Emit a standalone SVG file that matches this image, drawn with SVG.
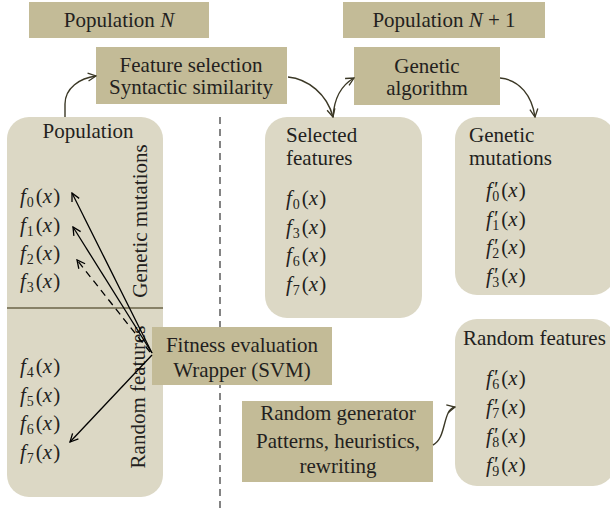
<svg xmlns="http://www.w3.org/2000/svg" width="610" height="514" viewBox="0 0 610 514" font-family="'Liberation Serif', 'DejaVu Serif', serif">
<style>
text{font-family:'Liberation Serif','DejaVu Serif',serif;font-size:21px;fill:#231f20}
.c{text-anchor:middle}
.i{font-style:italic}
.s{font-size:14px}
.p{font-size:21px;font-style:italic}
.dark{fill:#c3bb97}
.light{fill:#dcd8c5}
.conn{fill:none;stroke:#3b3826;stroke-width:1.4}
.fit{fill:none;stroke:#000;stroke-width:1.3}
</style>
<defs>
<marker id="ah" viewBox="0 0 10 10" refX="9" refY="5" markerWidth="10" markerHeight="10" markerUnits="userSpaceOnUse" orient="auto">
<path d="M1,1 L9,5 L1,9" fill="none" stroke="#3b3826" stroke-width="1.3"/>
</marker>
<marker id="ak" viewBox="0 0 10 10" refX="9" refY="5" markerWidth="10" markerHeight="10" markerUnits="userSpaceOnUse" orient="auto">
<path d="M1,1 L9,5 L1,9" fill="none" stroke="#000" stroke-width="1.3"/>
</marker>
</defs>

<line x1="220" y1="117" x2="220" y2="512" stroke="#333" stroke-width="1.2" stroke-dasharray="7,5"/>

<g id="popN">
<rect class="dark" x="29" y="2" width="180" height="36"/>
<text class="c" x="119" y="27">Population <tspan class="i">N</tspan></text>
</g>
<g id="popN1">
<rect class="dark" x="343" y="2" width="202" height="36"/>
<text class="c" x="444" y="27">Population <tspan class="i">N</tspan> + 1</text>
</g>
<g id="featsel">
<rect class="dark" x="96" y="47" width="191" height="57"/>
<text class="c" x="191" y="72">Feature selection</text>
<text class="c" x="191" y="94">Syntactic similarity</text>
</g>
<g id="genalg">
<rect class="dark" x="354" y="47" width="146" height="58"/>
<text class="c" x="427" y="73">Genetic</text>
<text class="c" x="427" y="95">algorithm</text>
</g>

<g id="population">
<rect class="light" x="7" y="117" width="156" height="380" rx="22"/>
<line x1="7" y1="308" x2="163" y2="308" stroke="#6b6447" stroke-width="1.5"/>
<text class="c" x="88" y="138">Population</text>
<text x="20" y="203"><tspan class="i">f</tspan><tspan class="s" dx="1" dy="4">0</tspan><tspan dx="2" dy="-4">(</tspan><tspan class="i">x</tspan><tspan dx="1">)</tspan></text>
<text x="20" y="232"><tspan class="i">f</tspan><tspan class="s" dx="1" dy="4">1</tspan><tspan dx="2" dy="-4">(</tspan><tspan class="i">x</tspan><tspan dx="1">)</tspan></text>
<text x="20" y="260"><tspan class="i">f</tspan><tspan class="s" dx="1" dy="4">2</tspan><tspan dx="2" dy="-4">(</tspan><tspan class="i">x</tspan><tspan dx="1">)</tspan></text>
<text x="20" y="288"><tspan class="i">f</tspan><tspan class="s" dx="1" dy="4">3</tspan><tspan dx="2" dy="-4">(</tspan><tspan class="i">x</tspan><tspan dx="1">)</tspan></text>
<text x="20" y="373"><tspan class="i">f</tspan><tspan class="s" dx="1" dy="4">4</tspan><tspan dx="2" dy="-4">(</tspan><tspan class="i">x</tspan><tspan dx="1">)</tspan></text>
<text x="20" y="402"><tspan class="i">f</tspan><tspan class="s" dx="1" dy="4">5</tspan><tspan dx="2" dy="-4">(</tspan><tspan class="i">x</tspan><tspan dx="1">)</tspan></text>
<text x="20" y="430"><tspan class="i">f</tspan><tspan class="s" dx="1" dy="4">6</tspan><tspan dx="2" dy="-4">(</tspan><tspan class="i">x</tspan><tspan dx="1">)</tspan></text>
<text x="20" y="459"><tspan class="i">f</tspan><tspan class="s" dx="1" dy="4">7</tspan><tspan dx="2" dy="-4">(</tspan><tspan class="i">x</tspan><tspan dx="1">)</tspan></text>
<text class="c" transform="translate(147,221) rotate(-90)">Genetic mutations</text>
<text class="c" transform="translate(145,397) rotate(-90)">Random features</text>
</g>

<g id="selected">
<rect class="light" x="265" y="117" width="157" height="201" rx="22"/>
<text x="286" y="142">Selected</text>
<text x="286" y="165">features</text>
<text x="286" y="205"><tspan class="i">f</tspan><tspan class="s" dx="1" dy="4">0</tspan><tspan dx="2" dy="-4">(</tspan><tspan class="i">x</tspan><tspan dx="1">)</tspan></text>
<text x="286" y="234"><tspan class="i">f</tspan><tspan class="s" dx="1" dy="4">3</tspan><tspan dx="2" dy="-4">(</tspan><tspan class="i">x</tspan><tspan dx="1">)</tspan></text>
<text x="286" y="262"><tspan class="i">f</tspan><tspan class="s" dx="1" dy="4">6</tspan><tspan dx="2" dy="-4">(</tspan><tspan class="i">x</tspan><tspan dx="1">)</tspan></text>
<text x="286" y="291"><tspan class="i">f</tspan><tspan class="s" dx="1" dy="4">7</tspan><tspan dx="2" dy="-4">(</tspan><tspan class="i">x</tspan><tspan dx="1">)</tspan></text>
</g>

<g id="genmut">
<rect class="light" x="455" y="117" width="160" height="178" rx="22"/>
<text x="469" y="142">Genetic</text>
<text x="469" y="165">mutations</text>
<text x="486" y="197"><tspan class="i">f</tspan><tspan class="p" dx="1" dy="-1">'</tspan><tspan class="s" dx="-5" dy="5">0</tspan><tspan dx="2" dy="-4">(</tspan><tspan class="i">x</tspan><tspan dx="1">)</tspan></text>
<text x="486" y="226"><tspan class="i">f</tspan><tspan class="p" dx="1" dy="-1">'</tspan><tspan class="s" dx="-5" dy="5">1</tspan><tspan dx="2" dy="-4">(</tspan><tspan class="i">x</tspan><tspan dx="1">)</tspan></text>
<text x="486" y="254"><tspan class="i">f</tspan><tspan class="p" dx="1" dy="-1">'</tspan><tspan class="s" dx="-5" dy="5">2</tspan><tspan dx="2" dy="-4">(</tspan><tspan class="i">x</tspan><tspan dx="1">)</tspan></text>
<text x="486" y="283"><tspan class="i">f</tspan><tspan class="p" dx="1" dy="-1">'</tspan><tspan class="s" dx="-5" dy="5">3</tspan><tspan dx="2" dy="-4">(</tspan><tspan class="i">x</tspan><tspan dx="1">)</tspan></text>
</g>

<g id="randfeat">
<rect class="light" x="455" y="319" width="160" height="167" rx="22"/>
<text x="463" y="345">Random features</text>
<text x="486" y="385"><tspan class="i">f</tspan><tspan class="p" dx="1" dy="-1">'</tspan><tspan class="s" dx="-5" dy="5">6</tspan><tspan dx="2" dy="-4">(</tspan><tspan class="i">x</tspan><tspan dx="1">)</tspan></text>
<text x="486" y="414"><tspan class="i">f</tspan><tspan class="p" dx="1" dy="-1">'</tspan><tspan class="s" dx="-5" dy="5">7</tspan><tspan dx="2" dy="-4">(</tspan><tspan class="i">x</tspan><tspan dx="1">)</tspan></text>
<text x="486" y="443"><tspan class="i">f</tspan><tspan class="p" dx="1" dy="-1">'</tspan><tspan class="s" dx="-5" dy="5">8</tspan><tspan dx="2" dy="-4">(</tspan><tspan class="i">x</tspan><tspan dx="1">)</tspan></text>
<text x="486" y="472"><tspan class="i">f</tspan><tspan class="p" dx="1" dy="-1">'</tspan><tspan class="s" dx="-5" dy="5">9</tspan><tspan dx="2" dy="-4">(</tspan><tspan class="i">x</tspan><tspan dx="1">)</tspan></text>
</g>

<g id="fitness">
<rect class="dark" x="152" y="327" width="180" height="58"/>
<text class="c" x="242" y="352">Fitness evaluation</text>
<text class="c" x="242" y="377">Wrapper (SVM)</text>
</g>

<g id="randgen">
<rect class="dark" x="242" y="401" width="191" height="81"/>
<text class="c" x="338" y="420">Random generator</text>
<text class="c" x="338" y="448">Patterns, heuristics,</text>
<text class="c" x="338" y="473">rewriting</text>
</g>

<g id="connectors">
<path class="conn" d="M65,117 L65,104 C65,88 80,78 96,76" marker-end="url(#ah)"/>
<path class="conn" d="M288,77 C308,79 327,94 333,117" marker-end="url(#ah)"/>
<path class="conn" d="M333,117 C334,100 340,86 354,78" marker-end="url(#ah)"/>
<path class="conn" d="M500,78 C520,80 532,96 535,117" marker-end="url(#ah)"/>
<path class="conn" d="M433,445 C447,438 442,410 455,407" marker-end="url(#ah)"/>
<line class="fit" x1="152" y1="353" x2="72" y2="193" marker-end="url(#ak)"/>
<line class="fit" x1="152" y1="353" x2="73" y2="227" marker-end="url(#ak)"/>
<line class="fit" x1="150" y1="352" x2="77" y2="260" stroke-dasharray="7,5" marker-end="url(#ak)"/>
<line class="fit" x1="152" y1="355" x2="70" y2="442" marker-end="url(#ak)"/>
</g>
</svg>
